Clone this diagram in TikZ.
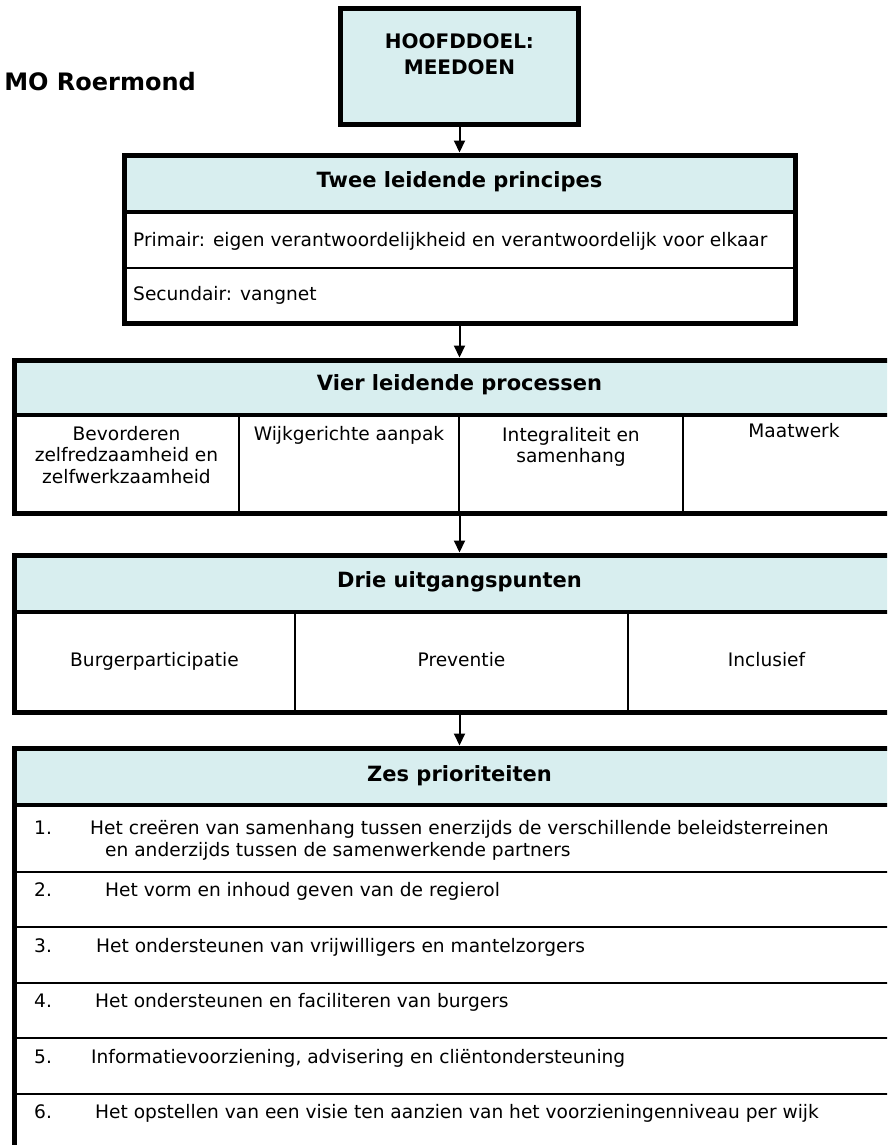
\documentclass[tikz,border=0pt]{standalone}
\usepackage{fontspec}
\setmainfont{DejaVu Sans}
\usetikzlibrary{arrows.meta}
\definecolor{hdrfill}{RGB}{216,238,239}
\begin{document}
\begin{tikzpicture}[x=1pt,y=-1pt,
  frame/.style={draw=black, line width=5pt, inner sep=0pt, outer sep=0pt},
  band/.style={fill=hdrfill, draw=none, inner sep=0pt, outer sep=0pt},
  septhick/.style={line width=4.5pt},
  septhin/.style={line width=2pt},
  seprow/.style={line width=2.5pt},
  bodytxt/.style={font=\fontsize{18.6}{22}\selectfont, inner sep=0pt},
  headtxt/.style={font=\bfseries\fontsize{21}{25}\selectfont, inner sep=0pt},
  conn/.style={line width=2pt, -{Triangle[length=12pt,width=11pt]}, shorten >=2.5pt, shorten <=2.5pt},
]
\useasboundingbox (0,0) rectangle (887,1145);
\clip (0,0) rectangle (887,1145);

% Title
\node[font=\bfseries\fontsize{24}{28}\selectfont, anchor=base east, inner sep=0pt] (title) at (196,91) {MO Roermond};

% Hoofddoel
\node[frame, fill=hdrfill, minimum width=238pt, minimum height=116pt] (hoofd) at (459.5,67) {};
\node[font=\bfseries\fontsize{20}{24}\selectfont, anchor=base, inner sep=0pt] (hoofdA) at (459.5,49) {HOOFDDOEL:};
\node[font=\bfseries\fontsize{20}{24}\selectfont, anchor=base, inner sep=0pt] (hoofdB) at (459.5,75) {MEEDOEN};

% Twee leidende principes
\node[band, minimum width=671pt, minimum height=57pt] (tweeband) at (459.5,183.5) {};
\draw[septhick] (124,212) -- (795,212);
\draw[septhin] (124,268) -- (795,268);
\node[headtxt, anchor=base] (tweeh) at (459.5,187) {Twee leidende principes};
\node[bodytxt, anchor=base west] (prim) at (133,246) {Primair: eigen verantwoordelijkheid en verantwoordelijk voor elkaar};
\node[bodytxt, anchor=base west] (secu) at (133,300) {Secundair: vangnet};
\node[frame, minimum width=671pt, minimum height=168pt] (twee) at (459.5,239) {};

% Vier leidende processen
\node[band, minimum width=891pt, minimum height=55pt] (vierband) at (459.5,387.5) {};
\draw[septhick] (14,415) -- (905,415);
\draw[septhin] (239,415) -- (239,513);
\draw[septhin] (459,415) -- (459,513);
\draw[septhin] (683,415) -- (683,513);
\node[headtxt, anchor=base] (vierh) at (459.5,390) {Vier leidende processen};
\node[bodytxt, anchor=base] (vA1) at (126.5,440) {Bevorderen};
\node[bodytxt, anchor=base] (vA2) at (126.5,461.5) {zelfredzaamheid en};
\node[bodytxt, anchor=base] (vA3) at (126.5,483) {zelfwerkzaamheid};
\node[bodytxt, anchor=base] (vB) at (349,440) {Wijkgerichte aanpak};
\node[bodytxt, anchor=base] (vC1) at (571,441) {Integraliteit en};
\node[bodytxt, anchor=base] (vC2) at (571,462.5) {samenhang};
\node[bodytxt, anchor=base] (vD) at (794,437) {Maatwerk};
\node[frame, minimum width=891pt, minimum height=153pt] (vier) at (459.5,436.5) {};

% Drie uitgangspunten
\node[band, minimum width=891pt, minimum height=57pt] (drieband) at (459.5,583.5) {};
\draw[septhick] (14,612) -- (905,612);
\draw[septhin] (295,612) -- (295,712);
\draw[septhin] (628,612) -- (628,712);
\node[headtxt, anchor=base] (drieh) at (459.5,587) {Drie uitgangspunten};
\node[bodytxt, anchor=base] (dA) at (154.5,666) {Burgerparticipatie};
\node[bodytxt, anchor=base] (dB) at (461.5,666) {Preventie};
\node[bodytxt, anchor=base] (dC) at (766.5,666) {Inclusief};
\node[frame, minimum width=891pt, minimum height=157pt] (drie) at (459.5,633.5) {};

% Zes prioriteiten
\node[band, minimum width=891pt, minimum height=57pt] (zesband) at (459.5,776.5) {};
\draw[septhick] (14,805) -- (905,805);
\foreach \yy in {872,927,983,1038,1094} { \draw[seprow] (14,\yy) -- (905,\yy); }
\node[headtxt, anchor=base] (zesh) at (459.5,781) {Zes prioriteiten};
\node[bodytxt, anchor=base west] (n1) at (34,834) {1.};
\node[bodytxt, anchor=base west] (t1a) at (90,834) {Het creëren van samenhang tussen enerzijds de verschillende beleidsterreinen};
\node[bodytxt, anchor=base west] (t1b) at (105,856) {en anderzijds tussen de samenwerkende partners};
\node[bodytxt, anchor=base west] (n2) at (34,896) {2.};
\node[bodytxt, anchor=base west] (t2) at (105,896) {Het vorm en inhoud geven van de regierol};
\node[bodytxt, anchor=base west] (n3) at (34,952) {3.};
\node[bodytxt, anchor=base west] (t3) at (96,952) {Het ondersteunen van vrijwilligers en mantelzorgers};
\node[bodytxt, anchor=base west] (n4) at (34,1007) {4.};
\node[bodytxt, anchor=base west] (t4) at (95,1007) {Het ondersteunen en faciliteren van burgers};
\node[bodytxt, anchor=base west] (n5) at (34,1063) {5.};
\node[bodytxt, anchor=base west] (t5) at (91,1063) {Informatievoorziening, advisering en cliëntondersteuning};
\node[bodytxt, anchor=base west] (n6) at (34,1118) {6.};
\node[bodytxt, anchor=base west] (t6) at (95,1118) {Het opstellen van een visie ten aanzien van het voorzieningenniveau per wijk};
\node[frame, minimum width=891pt, minimum height=412pt] (zes) at (459.5,954) {};

% Connectors
\draw[conn] (hoofd.south) -- (twee.north);
\draw[conn] (twee.south) -- (vier.north);
\draw[conn] (vier.south) -- (drie.north);
\draw[conn] (drie.south) -- (zes.north);
\end{tikzpicture}
\end{document}
